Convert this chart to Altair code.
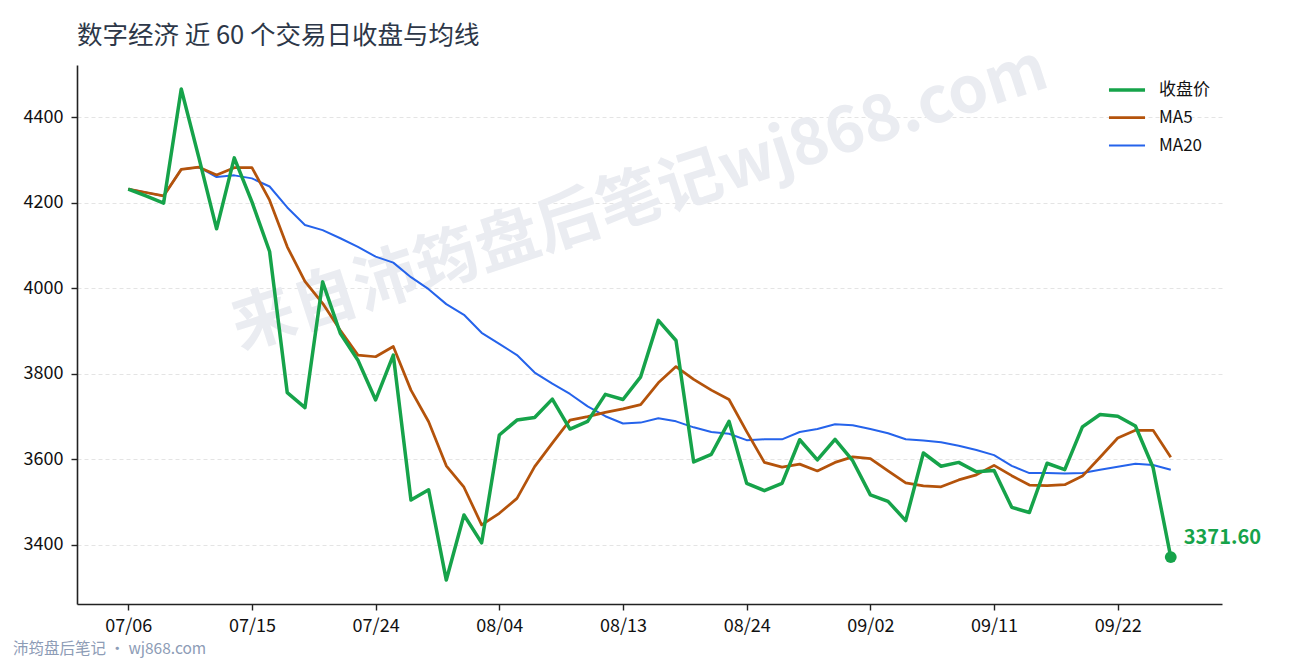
import altair as alt
import pandas as pd

# ---- data ----
tick_labels = ["07/06", "07/15", "07/24", "08/04", "08/13", "08/24", "09/02", "09/11", "09/22"]

close = [4232, 4216, 4199, 4466, 4305, 4139, 4305, 4202, 4086, 3756,
         3721, 4015, 3895, 3832, 3739, 3844, 3505, 3529, 3318, 3470,
         3405, 3657, 3692, 3698, 3741, 3671, 3689, 3752, 3740, 3793,
         3925, 3878, 3594, 3612, 3689, 3544, 3527, 3544, 3646, 3599,
         3647, 3597, 3517, 3502, 3457, 3615, 3584, 3593, 3571, 3574,
         3488, 3476, 3591, 3576, 3676, 3705, 3701, 3678, 3581, 3371.60]

ma5 = [4232, 4224, 4216, 4278, 4283, 4265, 4282, 4282, 4206, 4097,
       4016, 3965, 3902, 3844, 3840, 3864, 3762, 3688, 3585, 3535,
       3447, 3474, 3509, 3583, 3638, 3692, 3700, 3710, 3718, 3728,
       3779, 3817, 3787, 3762, 3740, 3665, 3593, 3582, 3589, 3573,
       3593, 3606, 3602, 3573, 3545, 3538, 3536, 3552, 3564, 3586,
       3562, 3540, 3539, 3541, 3561, 3605, 3650, 3668, 3668, 3605]

ma20 = [4232, 4224, 4216, 4278, 4283, 4260, 4264, 4257, 4238, 4189,
        4148, 4136, 4117, 4097, 4074, 4060, 4026, 3998, 3963, 3938,
        3896, 3870, 3844, 3803, 3777, 3753, 3724, 3701, 3684, 3686,
        3696, 3689, 3675, 3664, 3660, 3645, 3647, 3647, 3664, 3671,
        3682, 3680, 3671, 3661, 3647, 3644, 3640, 3632, 3622, 3610,
        3585, 3568, 3568, 3567, 3568, 3576, 3583, 3590, 3587, 3576]

series_names = ["收盘价", "MA5", "MA20"]
series_colors = ["#16a34a", "#b4530b", "#2563eb"]
series_widths = [3.5, 2, 2]

FONT = "Noto Sans CJK SC"

rows = []
for name, vals in zip(series_names, [close, ma5, ma20]):
    for i, v in enumerate(vals):
        rows.append({"idx": i, "series": name, "value": v})
df = pd.DataFrame(rows)
last_df = pd.DataFrame({"idx": [len(close) - 1], "value": [close[-1]]})

label_expr = "[" + ",".join(f'"{t}"' for t in tick_labels) + "][datum.value / 7]"

x_enc = alt.X("idx:Q",
              scale=alt.Scale(domain=[-2.9, 61.9], nice=False, zero=False),
              axis=alt.Axis(values=[i * 7 for i in range(len(tick_labels))],
                            labelExpr=label_expr, title=None, grid=False,
                            domainColor="#222222", domainWidth=1.6,
                            tickColor="#222222", tickWidth=1.4, tickSize=6,
                            labelFont=FONT, labelFontSize=18, labelColor="#111111",
                            labelPadding=7))
y_enc = alt.Y("value:Q",
              scale=alt.Scale(domain=[3262, 4522], nice=False, zero=False),
              axis=alt.Axis(values=[3400, 3600, 3800, 4000, 4200, 4400], title=None,
                            format="d",
                            grid=True, gridColor="#dddddd", gridDash=[4, 3], gridWidth=0.8,
                            domainColor="#222222", domainWidth=1.6,
                            tickColor="#222222", tickWidth=1.4, tickSize=6,
                            labelFont=FONT, labelFontSize=18, labelColor="#111111",
                            labelPadding=8))

color_scale = alt.Scale(domain=series_names, range=series_colors)
width_scale = alt.Scale(domain=series_names, range=series_widths)
legend = alt.Legend(title=None, orient="none", legendX=1030, legendY=5,
                    symbolType="stroke", symbolSize=1300, labelFont=FONT,
                    labelFontSize=17, labelColor="#111111", labelOffset=12,
                    rowPadding=-5.5)

base = alt.Chart(df)

watermark = alt.Chart(pd.DataFrame({"t": ["来自沛筠盘后笔记wj868.com"]})).mark_text(
    font=FONT, fontSize=64, fontWeight="bold", color="#eaecf1", angle=342,
    align="center", baseline="middle"
).encode(x=alt.value(563), y=alt.value(135), text="t:N")

def line_layer(name):
    return base.transform_filter(alt.datum.series == name).mark_line(
        strokeJoin="round"
    ).encode(
        x=x_enc, y=y_enc,
        color=alt.Color("series:N", scale=color_scale, legend=legend),
        strokeWidth=alt.StrokeWidth("series:N", scale=width_scale, legend=legend),
    )

point = alt.Chart(last_df).mark_circle(size=140, color="#16a34a", opacity=1).encode(
    x=alt.X("idx:Q"), y=alt.Y("value:Q"))
label = alt.Chart(last_df).mark_text(
    align="left", baseline="middle", dx=13, dy=-19, font=FONT, fontSize=20,
    fontWeight="bold", color="#16a34a"
).encode(x=alt.X("idx:Q"), y=alt.Y("value:Q"), text=alt.Text("value:Q", format=".2f"))

footnote = alt.Chart(pd.DataFrame({"t": ["沛筠盘后笔记 · wj868.com"]})).mark_text(
    font=FONT, fontSize=15.5, color="#8d9cb6", align="left", baseline="middle"
).encode(x=alt.value(-64), y=alt.value(584), text="t:N")

chart = alt.layer(
    watermark, line_layer("MA20"), line_layer("MA5"), line_layer("收盘价"),
    point, label, footnote
).properties(
    width=1145, height=539,
    background="white",
    title=alt.TitleParams("数字经济 近 60 个交易日收盘与均线", anchor="start", frame="group",
                          font=FONT, fontSize=25.5, fontWeight="normal",
                          color="#2d3748", offset=-12),
    padding={"left": 69, "top": 57, "right": 50, "bottom": 60},
    autosize=alt.AutoSizeParams(type="none"),
).configure_view(stroke="transparent", strokeWidth=0)

chart.save("out.html", embed_options={"renderer": "svg", "actions": False})
